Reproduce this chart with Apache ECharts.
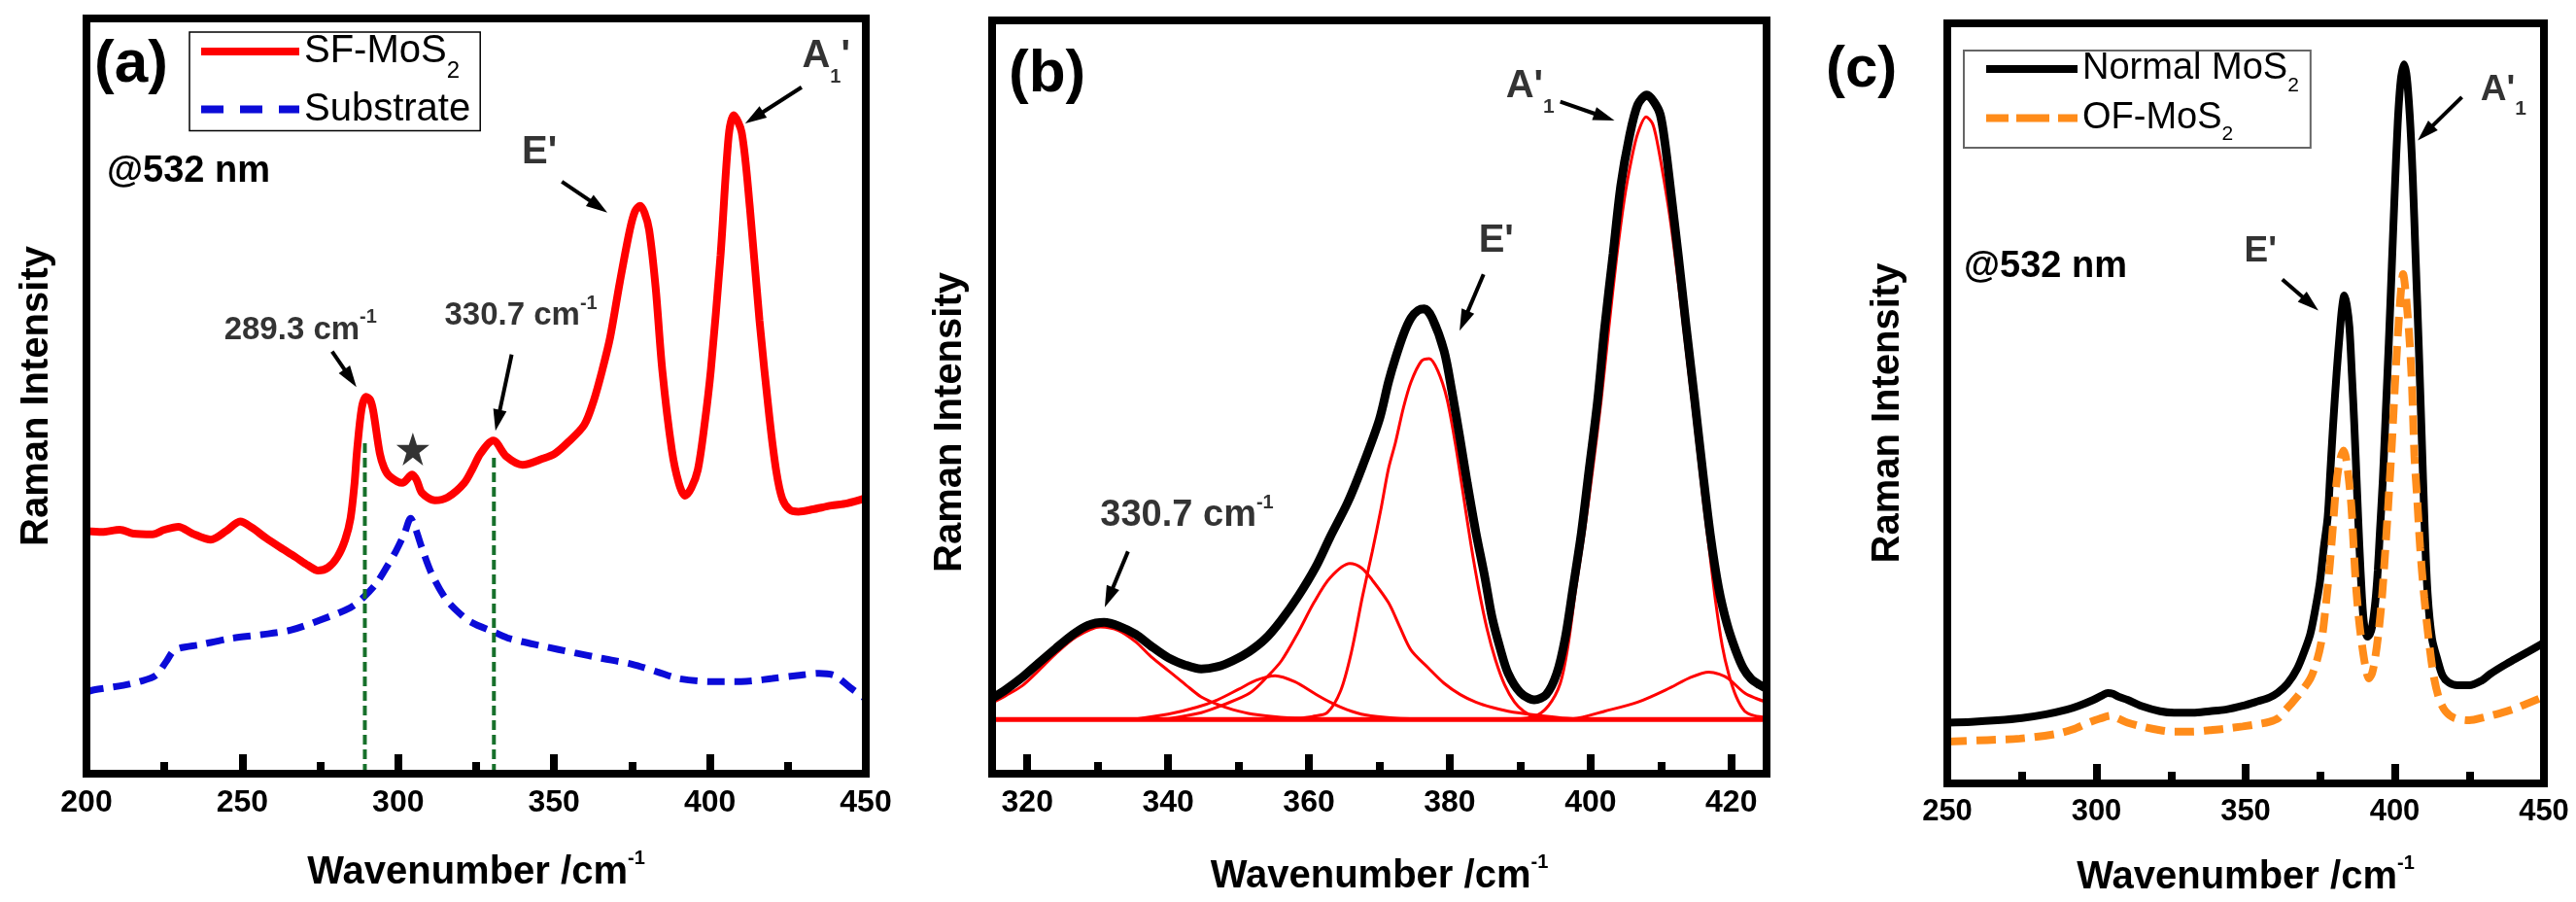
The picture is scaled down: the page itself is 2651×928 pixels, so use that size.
<!DOCTYPE html>
<html>
<head>
<meta charset="utf-8">
<title>Raman spectra of MoS2</title>
<script src="https://cdn.jsdelivr.net/npm/echarts@6/dist/echarts.min.js"></script>
<style>
html, body { margin: 0; padding: 0; background: #fff; }
#chart { width: 2651px; height: 928px; }
</style>
</head>
<body>
<div id="chart"></div>
<script>
var FONT = '"Liberation Sans", Arial, Helvetica, sans-serif';

// intensities are in arbitrary units, 0 = bottom of the frame, 100 = top

// (a) SF-MoS2 and substrate
var aSfMos2 = [
  [200, 32.1], [205, 32.0], [210.7, 32.3], [215, 31.8], [221.2, 31.7], [225, 32.3], [229.5, 32.7],
  [234, 31.8], [239.9, 31.0], [245, 32.2], [249.3, 33.4], [253, 32.6], [257.6, 31.2], [262, 30.0],
  [267, 28.7], [271, 27.6], [274.3, 26.9], [277.5, 27.3], [280.5, 28.7], [283, 31.0], [284.7, 33.8],
  [286, 38.5], [286.8, 42.8], [288.3, 48.4], [289.7, 49.9], [291, 49.5], [292, 48.0], [294.1, 42.4],
  [295.5, 40.5], [297.2, 39.4], [301.3, 38.5], [304.5, 39.6], [306, 38.8], [307.6, 37.2], [311.8, 36.2],
  [315.9, 36.6], [321.2, 38.5], [324, 40.5], [326.4, 42.4], [330.5, 44.1], [334.7, 42.0], [339.9, 40.9],
  [346.2, 41.7], [350.3, 42.4], [354.5, 43.9], [359.7, 46.2], [362.8, 49.5], [365.5, 53.5], [368, 57.8],
  [371.1, 65.1], [374.3, 72.0], [376, 74.5], [377.6, 75.2], [379, 74.3], [380.5, 72.0], [382.6, 64.3],
  [384.7, 53.5], [387.8, 42.8], [390, 38.5], [392, 36.8], [394, 37.8], [396.1, 40.2], [398.2, 46.0],
  [400.3, 53.5], [403.4, 68.6], [406, 84.4], [407.6, 87.2], [410.2, 84.9], [412.8, 75.0], [415.9, 60.0],
  [419.1, 47.1], [421.3, 40.0], [423.2, 36.4], [425.5, 35.0], [428.4, 34.7], [433, 35.0], [438.9, 35.5],
  [444, 35.8], [450, 36.5]
];
var aSubstrate = [
  [200, 10.8], [202.4, 11.1], [211.8, 11.7], [217, 12.2], [222.2, 13.0], [225.5, 14.8], [228.4, 16.4],
  [236.8, 17.1], [246.2, 17.9], [256, 18.4], [265.4, 19.0], [274.7, 20.3], [284.7, 22.0], [289, 23.4],
  [293, 25.2], [296.5, 27.5], [299.3, 29.5], [302, 31.8], [304, 33.8], [305.5, 32.5], [307.6, 29.9],
  [310.7, 26.5], [315, 23.3], [319, 21.5], [323.2, 20.1], [331.6, 18.6], [335.7, 17.9], [346.2, 16.9],
  [356.6, 16.0], [365, 15.3], [375, 14.5], [383, 13.5], [390, 12.6], [400, 12.2], [410, 12.2],
  [420, 12.6], [428, 13.0], [435, 13.3], [440, 13.0], [445, 11.4], [450, 9.9]
];
var aGuideX = [289.3, 330.7];
var aGuideTop = [44, 42];
var aStar = [[304.7, 43]];

// (b) peak fit of the 315-425 region
var bFit = [
  [315, 10.0], [317, 11.2], [319.3, 12.8], [321.5, 14.6], [324, 16.6], [326.5, 18.5], [328.6, 19.7],
  [330.9, 20.1], [333, 19.6], [335.4, 18.5], [337.5, 17.0], [340, 15.4], [342.5, 14.4], [344.7, 13.9],
  [347, 14.2], [349.2, 15.0], [351.5, 16.2], [353.8, 17.9], [356, 20.3], [358.5, 23.6], [361, 27.5],
  [363, 31.4], [365.5, 36.0], [367.6, 40.8], [370, 47.0], [371.3, 52.0], [372.3, 55.2], [373.5, 58.5],
  [374.5, 60.5], [375.5, 61.5], [376.4, 61.7], [377.5, 60.5], [379.2, 56.1], [380.3, 50.8], [381.4, 44.8],
  [382.5, 38.5], [383.7, 32.1], [385, 26.0], [386, 20.8], [387.2, 16.5], [388.3, 13.3], [390, 10.8],
  [392, 9.8], [393.7, 10.5], [395.2, 13.3], [396.4, 18.0], [397.5, 24.6], [398.7, 32.0], [399.8, 40.4],
  [401, 49.5], [402, 59.2], [403.2, 69.0], [404.3, 78.1], [405.5, 84.5], [406.7, 88.8], [408, 90.1],
  [409, 89.2], [409.9, 87.5], [410.6, 83.5], [411.3, 78.1], [412.5, 68.5], [413.6, 59.2], [414.8, 49.5],
  [415.9, 40.4], [417, 31.8], [418.2, 24.6], [419.4, 19.8], [420.6, 16.4], [421.7, 14.0], [422.8, 12.6],
  [424, 11.8], [425, 11.3]
];
var bPeak331 = [
  [315, 9.4], [317, 10.4], [319.3, 11.7], [321.5, 13.6], [324, 15.9], [327, 18.2], [330.4, 19.5],
  [333, 19.0], [335.4, 17.5], [337.5, 15.6], [340, 13.7], [342.5, 11.8], [344.7, 10.2], [347, 9.2],
  [349.2, 8.5], [352, 7.9], [356, 7.5], [362, 7.3], [370, 7.2]
];
var bPeak355 = [
  [335, 7.2], [340, 7.9], [344, 8.8], [347, 9.8], [350, 11.2], [352.5, 12.4], [355.2, 13.0],
  [358, 12.2], [360.7, 10.7], [363, 9.5], [365.4, 8.5], [368, 7.8], [372, 7.4], [378, 7.2]
];
var bPeak366 = [
  [340, 7.3], [344.7, 8.1], [348, 9.2], [351.6, 10.7], [354, 12.8], [356.1, 15.0], [358.5, 18.8],
  [360.7, 22.7], [363, 26.0], [365.8, 27.9], [367.5, 27.3], [369, 25.7], [371.3, 22.7], [372.9, 19.5],
  [374.5, 16.4], [377, 14.0], [379.2, 12.0], [381.5, 10.5], [383.7, 9.5], [386, 8.8], [388.3, 8.3],
  [392, 7.8], [396, 7.4], [400, 7.2]
];
var bPeak377 = [
  [358, 7.3], [360.5, 7.6], [362.6, 8.1], [364.5, 11.0], [366, 16.0], [367.6, 23.5], [369, 29.5],
  [370.2, 35.0], [371.3, 40.5], [372.3, 44.0], [373.4, 48.5], [374.5, 52.0], [376, 54.8], [377.1, 55.1],
  [378.3, 53.5], [379.6, 49.8], [380.8, 43.8], [381.9, 37.2], [383, 30.5], [384.1, 24.6], [385.3, 19.2],
  [386.5, 15.1], [387.8, 11.8], [389.2, 9.5], [390.5, 8.3], [392, 7.6], [395, 7.3]
];
var bPeak408 = [
  [388, 7.2], [392, 7.6], [394, 9.0], [395.7, 12.0], [396.8, 17.0], [397.9, 24.6], [399.1, 32.0],
  [400.3, 40.4], [401.5, 49.5], [402.6, 59.2], [403.7, 68.5], [404.8, 76.3], [405.8, 81.5], [406.7, 85.0],
  [407.9, 87.2], [408.8, 86.3], [409.5, 83.7], [410.4, 79.0], [411.3, 73.7], [412.5, 65.0], [413.6, 56.1],
  [414.8, 46.5], [415.9, 37.2], [416.9, 29.5], [417.8, 22.6], [418.7, 17.0], [419.6, 13.3], [420.7, 10.2],
  [421.9, 8.3], [423.3, 7.7], [425, 7.5]
];
var bPeak417 = [
  [392, 7.2], [397.5, 7.3], [402, 8.3], [406.7, 9.5], [411.3, 11.4], [414, 12.7], [416.8, 13.5],
  [418.3, 13.2], [419.6, 12.6], [421.9, 10.7], [423.5, 10.0], [425, 9.5]
];
var bBaseline = [[315, 7.2], [425, 7.2]];

// (c) normal MoS2 and OF-MoS2
var cNormal = [
  [250, 8.0], [258, 8.1], [266.7, 8.3], [275, 8.6], [283.1, 9.1], [290, 9.7], [294, 10.2], [299, 11.0],
  [302, 11.6], [303.8, 11.9], [305.5, 11.8], [307.5, 11.4], [310.4, 11.0], [315, 10.2], [321.3, 9.5],
  [326, 9.3], [332.3, 9.3], [338, 9.5], [343.2, 9.7], [349, 10.2], [354.1, 10.8], [358, 11.3],
  [360.7, 11.9], [364, 13.1], [367.3, 15.1], [369.8, 17.5], [371.7, 19.7], [373.4, 23.0], [374.9, 26.5],
  [376.2, 31.0], [377.5, 35.0], [378.4, 41.0], [379.3, 47.0], [380.5, 54.0], [381.5, 59.0], [382.3, 62.5],
  [383.1, 64.2], [383.9, 63.0], [384.8, 60.0], [385.6, 54.0], [386.4, 47.5], [387.3, 39.0], [388.1, 31.5],
  [389, 24.5], [389.7, 21.0], [390.8, 19.3], [391.6, 19.6], [392.4, 20.6], [393.5, 24.0], [394.3, 28.0],
  [395, 33.0], [396, 40.0], [397, 49.0], [398, 58.0], [399, 68.0], [400, 78.0], [401, 87.0], [402, 92.5],
  [403.1, 94.6], [404, 93.0], [405, 88.0], [406, 80.0], [407, 69.0], [408, 58.0], [409, 46.0], [410, 34.0],
  [411, 25.0], [412.5, 19.0], [414.3, 16.3], [416, 14.2], [418, 13.3], [421, 12.9], [425, 12.9],
  [429, 13.5], [432, 14.4], [436, 15.4], [440, 16.3], [445, 17.4], [450, 18.5]
];
var cOF = [
  [250, 5.5], [263.4, 5.7], [274.3, 5.9], [286.4, 6.5], [292, 7.1], [297.3, 8.0], [301, 8.5], [304.9, 8.9],
  [307.5, 8.5], [310.4, 8.0], [315, 7.5], [321.3, 7.0], [326, 6.8], [332.3, 6.8], [338, 7.0], [343.2, 7.2],
  [349, 7.5], [354.1, 7.8], [358, 8.1], [361, 8.6], [363, 9.5], [365.1, 10.4], [368.5, 12.0], [371.7, 13.8],
  [373.8, 16.0], [375.5, 18.9], [376.9, 23.5], [378.2, 28.7], [379.3, 34.0], [380.4, 39.3], [381.5, 42.3],
  [382.8, 43.8], [383.8, 42.5], [385.3, 37.2], [386.1, 32.0], [386.9, 26.5], [388, 21.5], [389.1, 18.0],
  [390.2, 15.3], [391.3, 13.8], [392.4, 14.5], [393.5, 16.7], [394.6, 20.0], [395.7, 24.4], [396.8, 30.5],
  [397.9, 37.2], [399, 44.5], [400, 52.0], [400.8, 57.5], [401.8, 63.5], [402.8, 67.0], [403.8, 64.0],
  [405, 58.0], [405.8, 52.0], [406.6, 43.0], [407.5, 37.5], [408.5, 31.0], [409.9, 24.4], [411.5, 18.5],
  [413.2, 13.8], [415, 11.0], [417, 9.5], [420, 8.6], [425, 8.3], [430, 8.7], [435, 9.2], [440, 9.8],
  [445, 10.6], [450, 11.4]
];

// axis ticks
var aMajor = [200, 250, 300, 350, 400, 450];
var aMinor = [225, 275, 325, 375, 425];
var bMajor = [320, 340, 360, 380, 400, 420];
var bMinor = [330, 350, 370, 390, 410];
var cMajor = [250, 300, 350, 400, 450];
var cMinor = [275, 325, 375, 425];

// peak labels: [x, y, text, label position]
var aNotes = [
  [244, 58.7, '{n|289.3 cm}{p|-1}', 'right'],
  [314.7, 60.6, '{n|330.7 cm}{p|-1}', 'right'],
  [345.3, 82.2, "{L|E'}", 'inside'],
  [429.4, 95, "{L|A}{s|1}{L|'}", 'right']
];
var bNotes = [
  [330.3, 34.3, '{n|330.7 cm}{p|-1}', 'right'],
  [386.6, 70.7, "{L|E'}", 'inside'],
  [387.9, 91.2, "{L|A'}{s|1}", 'right']
];
var cNotes = [
  [355, 70, "{L|E'}", 'inside'],
  [428.6, 91.2, "{L|A'}{s|1}", 'right']
];
// arrows: [x1, y1, x2 (tip), y2 (tip)]
var aArrows = [[278.8, 55.9, 286.6, 51.2], [336.4, 55.5, 331.2, 45.4], [352.5, 78.4, 367.1, 74.3], [429.4, 90.9, 411.3, 86.1]];
var bArrows = [[334.3, 29.5, 331, 22.1], [384.8, 66.3, 381.4, 58.8], [395.7, 89.2, 403.4, 86.7]];
var cArrows = [[362.3, 66.3, 374.4, 62.2], [422.5, 90.3, 407.7, 84.6]];

var legendText = {
  'SF-MoS2': '{m|SF-MoS}{s|2}',
  'Substrate': '{m|Substrate}',
  'Normal MoS2': '{m|Normal MoS}{s|2}',
  'OF-MoS2': '{m|OF-MoS}{s|2}'
};
// legend samples drawn as bars (solid / dashed)
var SOLID_A = 'path://M0,0H101V8H0Z';
var DASH_A = 'path://M0,0H23V8H0Z M40,0H63V8H40Z M80,0H101V8H80Z';
var SOLID_C = 'path://M0,0H94V8H0Z';
var DASH_C = 'path://M0,0H23V8H0Z M31,0H65V8H31Z M74,0H94V8H74Z';

function tok(size, bold, pad) {
  var t = { fontSize: size, fontWeight: bold ? 'bold' : 'normal', fontFamily: FONT, color: '#000' };
  if (pad) t.padding = pad;
  return t;
}

function noteRich(num, letter, sub, subPad) {
  return { n: tok(num, true), L: tok(letter, true), s: tok(sub, true, [subPad, 0, 0, 0]), p: tok(20, true, [0, 0, 26, 0]) };
}

var titleRich = { m: tok(40, true), p: tok(20, true, [0, 0, 30, 0]) };

function renderArrow(params, api) {
  var p1 = api.coord([api.value(0), api.value(1)]);
  var p2 = api.coord([api.value(2), api.value(3)]);
  var dx = p2[0] - p1[0], dy = p2[1] - p1[1];
  var len = Math.sqrt(dx * dx + dy * dy);
  var ux = dx / len, uy = dy / len;
  var head = 22, half = 7;
  var bx = p2[0] - ux * head, by = p2[1] - uy * head;
  return {
    type: 'group',
    children: [
      { type: 'line', shape: { x1: p1[0], y1: p1[1], x2: bx + ux * 2, y2: by + uy * 2 }, style: { stroke: '#000', lineWidth: 4 } },
      { type: 'polygon', shape: { points: [[p2[0], p2[1]], [bx - uy * half, by + ux * half], [bx + uy * half, by - ux * half]] }, style: { fill: '#000' } }
    ]
  };
}

function xMain(grid, min, max, ticks, gap, labelSize) {
  return {
    type: 'value', gridIndex: grid, min: min, max: max, position: 'bottom', z: 6,
    axisLine: { show: false }, splitLine: { show: false },
    axisTick: { show: true, inside: true, length: 20, customValues: ticks, lineStyle: { color: '#000', width: 8 } },
    axisLabel: { customValues: ticks, margin: 14, color: '#000', fontSize: labelSize, fontWeight: 'bold', fontFamily: FONT },
    name: '{m|Wavenumber /cm}{p|-1}', nameLocation: 'middle', nameGap: gap,
    nameTextStyle: { color: '#000', fontSize: 40, fontWeight: 'bold', fontFamily: FONT, rich: titleRich }
  };
}

function xMinor(grid, min, max, ticks) {
  return {
    type: 'value', gridIndex: grid, min: min, max: max, position: 'bottom', z: 6,
    axisLine: { show: false }, splitLine: { show: false }, axisLabel: { show: false },
    axisTick: { show: true, inside: true, length: 12, customValues: ticks, lineStyle: { color: '#000', width: 8 } }
  };
}

function yAxisFor(grid, gap, pad) {
  return {
    type: 'value', gridIndex: grid, min: 0, max: 100,
    axisLine: { show: false }, axisTick: { show: false }, axisLabel: { show: false }, splitLine: { show: false },
    name: 'Raman Intensity', nameLocation: 'middle', nameGap: gap,
    nameTextStyle: { color: '#000', fontSize: 40, fontWeight: 'bold', fontFamily: FONT, padding: pad }
  };
}

function spectrum(name, axis, data, color, width, dash, z) {
  return {
    name: name, type: 'line', xAxisIndex: axis, yAxisIndex: axis, data: data,
    symbol: 'none', showSymbol: false, smooth: 0.3, silent: true, z: z,
    itemStyle: { color: color },
    lineStyle: { color: color, width: width, type: dash || 'solid' }
  };
}

function notes(axis, list, rich) {
  return {
    type: 'scatter', xAxisIndex: axis, yAxisIndex: axis, symbolSize: 1, silent: true, z: 8,
    itemStyle: { color: 'rgba(0,0,0,0)' },
    data: list.map(function (n) { return { value: [n[0], n[1]], text: n[2], label: { position: n[3] } }; }),
    label: { show: true, distance: 0, formatter: function (p) { return p.data.text; }, rich: rich }
  };
}

function arrows(axis, list) {
  return { type: 'custom', xAxisIndex: axis, yAxisIndex: axis, renderItem: renderArrow, data: list, clip: false, silent: true, z: 8 };
}

var series = [
  spectrum('Substrate', 0, aSubstrate, '#0b0bd8', 7, [18, 10], 2)
];
aGuideX.forEach(function (x, i) {
  series.push({
    type: 'line', xAxisIndex: 0, yAxisIndex: 0, data: [[x, 0], [x, aGuideTop[i]]],
    symbol: 'none', silent: true, z: 3, lineStyle: { color: '#17702b', width: 4, type: [10, 5] }
  });
});
series.push(spectrum('SF-MoS2', 0, aSfMos2, '#ff0000', 8, null, 4));
series.push({
  type: 'scatter', xAxisIndex: 0, yAxisIndex: 0, data: aStar, silent: true, z: 5, symbolSize: 34,
  symbol: 'path://M50,0 L61.8,35.4 L99,35.4 L69,57.3 L80.4,92.7 L50,70.8 L19.6,92.7 L31,57.3 L1,35.4 L38.2,35.4 Z',
  itemStyle: { color: '#000' }
});
series.push(notes(0, aNotes, noteRich(33, 40, 20, 44)));
series.push(arrows(0, aArrows));

series.push(spectrum('baseline', 1, bBaseline, '#ff0000', 5, null, 2));
[bPeak331, bPeak355, bPeak366, bPeak377, bPeak408, bPeak417].forEach(function (d, i) {
  series.push(spectrum('peak' + i, 1, d, '#ff0000', 3, null, 3));
});
series.push(spectrum('fit', 1, bFit, '#000', 9, null, 4));
series.push(notes(1, bNotes, noteRich(38, 40, 21, 42)));
series.push(arrows(1, bArrows));

series.push(spectrum('Normal MoS2', 2, cNormal, '#000', 8, null, 3));
series.push(spectrum('OF-MoS2', 2, cOF, '#ff8c1a', 8, [20, 10], 4));
series.push(notes(2, cNotes, noteRich(37, 37, 21, 38)));
series.push(arrows(2, cArrows));

var chart = echarts.init(document.getElementById('chart'));
var gridBox = { show: true, borderColor: '#000', borderWidth: 8, backgroundColor: 'transparent', z: 5 };

chart.setOption({
  animation: false,
  backgroundColor: '#fff',
  grid: [
    Object.assign({ left: 89, top: 19, width: 802, height: 777 }, gridBox),
    Object.assign({ left: 1021, top: 21, width: 797, height: 775 }, gridBox),
    Object.assign({ left: 2004, top: 24, width: 614, height: 784 }, gridBox)
  ],
  xAxis: [
    xMain(0, 200, 450, aMajor, 77, 32),
    xMain(1, 315, 425, bMajor, 81, 32),
    xMain(2, 250, 450, cMajor, 72, 31),
    xMinor(0, 200, 450, aMinor),
    xMinor(1, 315, 425, bMinor),
    xMinor(2, 250, 450, cMinor)
  ],
  yAxis: [
    yAxisFor(0, 31, [0, 0, 0, 0]),
    yAxisFor(1, 23, [0, 52, 0, 0]),
    yAxisFor(2, 41, [0, 20, 0, 0])
  ],
  legend: [
    {
      data: [{ name: 'SF-MoS2', icon: SOLID_A }, { name: 'Substrate', icon: DASH_A }],
      orient: 'vertical', left: 195, top: 33,
      itemWidth: 101, itemHeight: 8, itemGap: 7, padding: [0, 10, 2, 12],
      borderColor: '#000', borderWidth: 1.5, selectedMode: false,
      formatter: function (name) { return legendText[name]; },
      textStyle: { color: '#000', fontSize: 40, fontFamily: FONT, rich: { m: tok(40, false), s: tok(24, false, [41, 0, 0, 0]) } }
    },
    {
      data: [{ name: 'Normal MoS2', icon: SOLID_C }, { name: 'OF-MoS2', icon: DASH_C }],
      orient: 'vertical', left: 2021, top: 52,
      itemWidth: 94, itemHeight: 8, itemGap: 4, padding: [0, 12, 3, 23],
      borderColor: '#666', borderWidth: 2, selectedMode: false,
      formatter: function (name) { return legendText[name]; },
      textStyle: { color: '#000', fontSize: 38, fontFamily: FONT, rich: { m: tok(38, false), s: tok(21, false, [34, 0, 0, 0]) } }
    }
  ],
  graphic: [
    { type: 'text', x: 97, y: 67, style: { text: '(a)', fontSize: 62, fontWeight: 'bold', fontFamily: FONT, fill: '#000', verticalAlign: 'middle' } },
    { type: 'text', x: 1038, y: 77, style: { text: '(b)', fontSize: 62, fontWeight: 'bold', fontFamily: FONT, fill: '#000', verticalAlign: 'middle' } },
    { type: 'text', x: 1879, y: 72, style: { text: '(c)', fontSize: 60, fontWeight: 'bold', fontFamily: FONT, fill: '#000', verticalAlign: 'middle' } },
    { type: 'text', x: 110, y: 177, style: { text: '@532 nm', fontSize: 38, fontWeight: 'bold', fontFamily: FONT, fill: '#000', verticalAlign: 'middle' } },
    { type: 'text', x: 2021, y: 275, style: { text: '@532 nm', fontSize: 38, fontWeight: 'bold', fontFamily: FONT, fill: '#000', verticalAlign: 'middle' } }
  ],
  series: series
});
</script>
</body>
</html>
